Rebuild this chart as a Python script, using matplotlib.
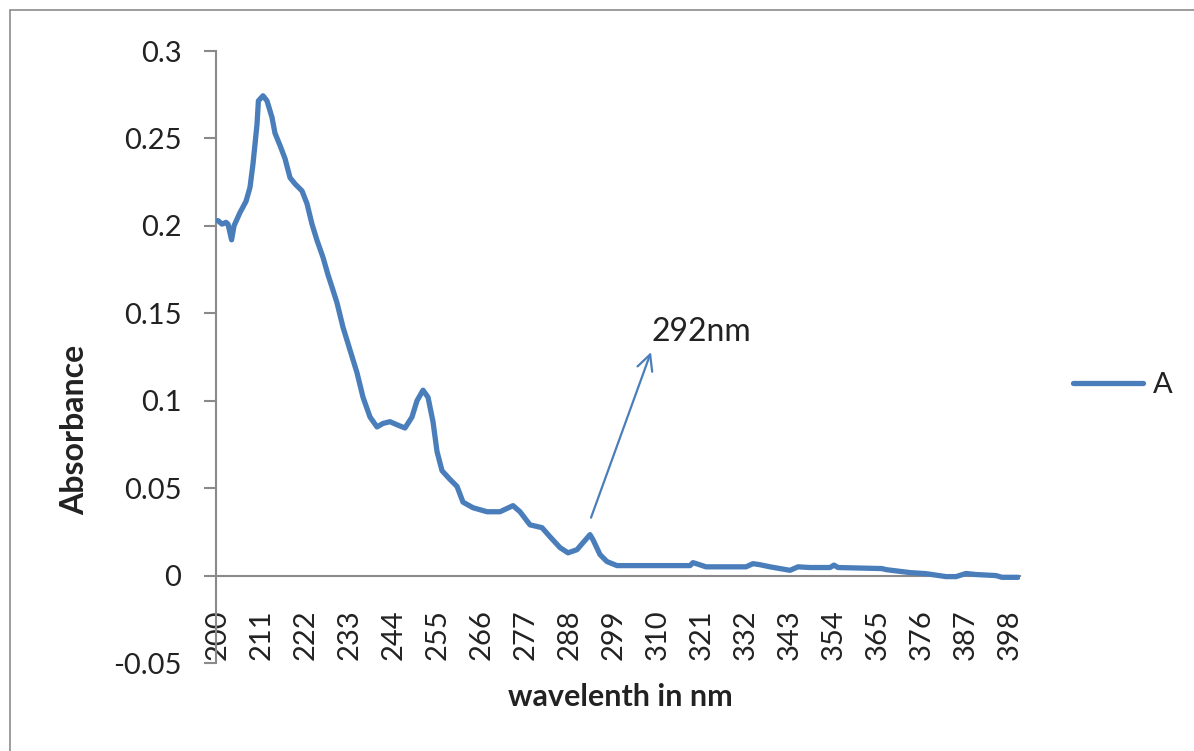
import matplotlib
matplotlib.use("Agg")
import matplotlib.pyplot as plt
from matplotlib.patches import Rectangle

plt.rcParams['font.family'] = ['Lato', 'DejaVu Sans']

# Data (wavelength in nm, absorbance)
wavelength = [200, 201, 202, 202.5, 203.4, 204, 205.5, 207, 208, 208.75, 209.75, 210.1,
              211.25, 212.25, 213.5, 214.25, 215.5, 216.75, 218, 219.25, 221, 222.25,
              223.5, 224.75, 226.25, 227.5, 228.5, 229.75, 231.25, 233, 234.75, 236.25,
              238, 239.75, 241.25, 243, 245, 246.75, 248.5, 249.75, 251.25, 252.5,
              253.75, 254.75, 256, 258, 259.75, 261.25, 263.75, 267.25, 270.5, 273.75,
              275.5, 278, 281, 283, 285.5, 287.5, 289.75, 291.25, 293, 293.75, 295.5,
              297.25, 299.75, 318, 318.75, 320, 322, 332, 333.75, 335.5, 338, 343,
              345, 348, 353, 354, 355, 366, 367, 373, 377, 382, 384.5, 387, 389.5,
              394.5, 396, 400]
absorbance = [0.203, 0.201, 0.202, 0.201, 0.192, 0.200, 0.2076, 0.214, 0.222, 0.2355,
              0.258, 0.2715, 0.2744, 0.2715, 0.262, 0.253, 0.246, 0.2385, 0.2276, 0.224,
              0.220, 0.2127, 0.201, 0.1917, 0.182, 0.172, 0.165, 0.156, 0.142, 0.129,
              0.116, 0.102, 0.0907, 0.085, 0.087, 0.088, 0.086, 0.0844, 0.0907, 0.100,
              0.106, 0.102, 0.088, 0.071, 0.060, 0.055, 0.051, 0.042, 0.0388, 0.0365,
              0.0365, 0.040, 0.0365, 0.029, 0.0274, 0.0222, 0.016, 0.013, 0.0148,
              0.0188, 0.0234, 0.0205, 0.012, 0.008, 0.0057, 0.0057, 0.0074, 0.0065,
              0.005, 0.005, 0.0068, 0.0062, 0.005, 0.003, 0.005, 0.0046, 0.0046, 0.006,
              0.0046, 0.004, 0.0034, 0.0017, 0.0011, -0.0006, -0.0006, 0.0012, 0.0006,
              0.0, -0.001, -0.001]

x_tick_labels = list(range(200, 399, 11))
y_ticks = [-0.05, 0, 0.05, 0.1, 0.15, 0.2, 0.25, 0.3]
y_tick_labels = ['-0.05', '0', '0.05', '0.1', '0.15', '0.2', '0.25', '0.3']

series_name = 'A'
annot_text = '292nm'
annot_tail = (293.25, 0.0331)
annot_head = (308.25, 0.1278)

W, H = 1194, 751
fig = plt.figure(figsize=(W / 100, H / 100), dpi=100)
fig.patch.set_facecolor('white')

# chart-area border
fig.patches.append(Rectangle((10 / W, -0.5), 1.5, 1.5 - 10 / H, transform=fig.transFigure,
                             fill=False, edgecolor='#8c8c8c', lw=1.2, zorder=0))

left, right, top, bottom = 216, 1020, 51, 663
ax = fig.add_axes([left / W, 1 - bottom / H, (right - left) / W, (bottom - top) / H])

line_color = '#4a7ebb'
axis_color = '#8a8a8a'

ax.plot(wavelength, absorbance, color=line_color, lw=3.8, solid_joinstyle='round',
        solid_capstyle='round', label=series_name, zorder=3)

ax.set_xlim(199.5, 400.5)
ax.set_ylim(-0.05, 0.3)

for s in ['top', 'right']:
    ax.spines[s].set_visible(False)
ax.spines['bottom'].set_position(('data', 0))
ax.spines['bottom'].set_color(axis_color)
ax.spines['bottom'].set_linewidth(1.5)
ax.spines['left'].set_color(axis_color)
ax.spines['left'].set_linewidth(1.5)

ax.set_yticks(y_ticks)
ax.set_yticklabels(y_tick_labels)
ax.tick_params(axis='y', direction='out', length=9, width=1.5, color=axis_color,
               labelsize=21, pad=16, labelcolor='#222222')

ax.set_xticks(x_tick_labels)
ax.set_xticklabels([str(v) for v in x_tick_labels], rotation=90, va='top')
ax.tick_params(axis='x', length=0, labelsize=21, pad=24, labelcolor='#222222')

ax.annotate('', xy=annot_head, xytext=annot_tail,
            arrowprops=dict(arrowstyle='->', color=line_color, lw=1.6, mutation_scale=28,
                            shrinkA=0, shrinkB=0))
ax.text(annot_head[0] + 0.1, annot_head[1] + 0.003, annot_text, fontsize=23,
        color='#222222', ha='left', va='bottom')

fig.text(75 / W, 1 - 430 / H, 'Absorbance', rotation=90, fontsize=23, fontweight='bold',
         ha='center', va='center', color='#222222')
fig.text(620 / W, 1 - 697 / H, 'wavelenth in nm', fontsize=22, fontweight='bold',
         ha='center', va='center', color='#222222')

leg = fig.legend(loc='center left', bbox_to_anchor=(1073 / W, 1 - 385 / H), frameon=False,
                 fontsize=21, handlelength=2.4, handletextpad=0.35, borderpad=0,
                 borderaxespad=0)
for t in leg.get_texts():
    t.set_color('#222222')

fig.savefig('out.png', dpi=100)
